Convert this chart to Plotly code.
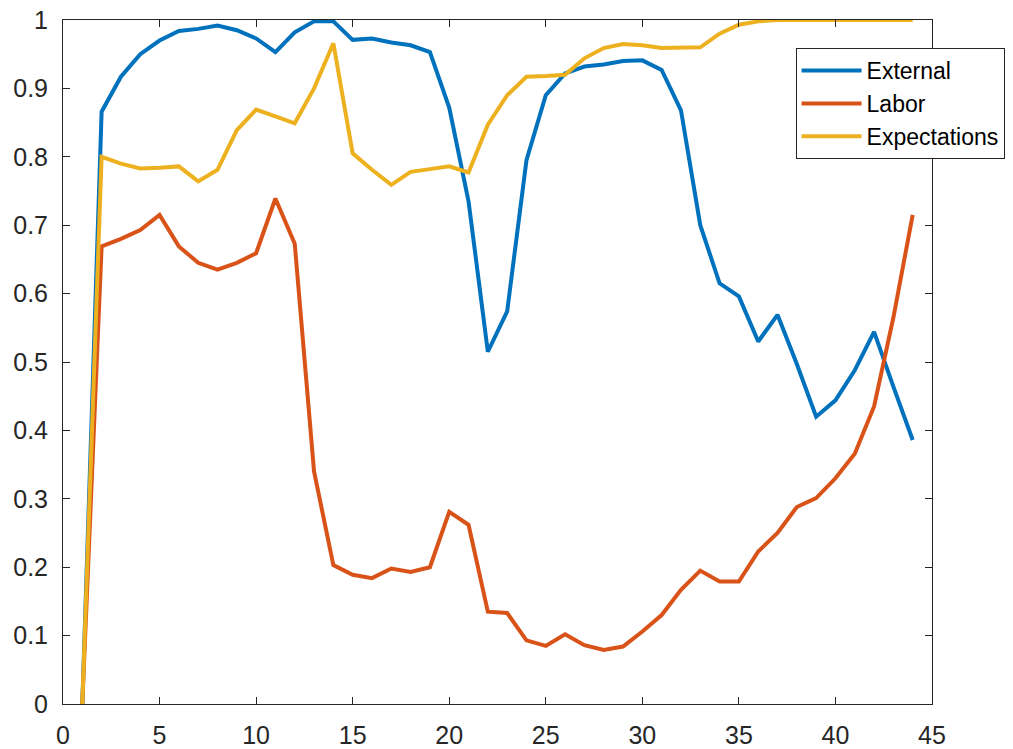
import plotly.graph_objects as go

x_vals = list(range(1, 45))

external = [0, 0.866, 0.917, 0.950, 0.970, 0.984, 0.987, 0.992, 0.985, 0.973,
            0.953, 0.982, 0.998, 0.998, 0.971, 0.973, 0.967, 0.963, 0.953, 0.872,
            0.735, 0.515, 0.574, 0.795, 0.890, 0.922, 0.932, 0.935, 0.940, 0.941,
            0.927, 0.868, 0.700, 0.615, 0.596, 0.530, 0.569, 0.497, 0.420, 0.444,
            0.488, 0.544, 0.464, 0.386]

labor = [0, 0.669, 0.680, 0.693, 0.715, 0.669, 0.645, 0.635, 0.645, 0.659,
         0.739, 0.673, 0.340, 0.203, 0.189, 0.184, 0.198, 0.193, 0.200, 0.281,
         0.262, 0.135, 0.133, 0.093, 0.085, 0.102, 0.086, 0.079, 0.084, 0.106,
         0.130, 0.167, 0.195, 0.179, 0.179, 0.223, 0.250, 0.288, 0.301, 0.330,
         0.366, 0.435, 0.565, 0.715]

expectations = [0, 0.800, 0.790, 0.783, 0.784, 0.786, 0.764, 0.781, 0.839, 0.869,
                0.859, 0.849, 0.900, 0.966, 0.805, 0.781, 0.759, 0.778, 0.782, 0.786,
                0.777, 0.847, 0.890, 0.917, 0.918, 0.920, 0.944, 0.959, 0.965, 0.963,
                0.959, 0.959, 0.960, 0.980, 0.993, 0.998, 1.0, 1.0, 1.0, 1.0,
                1.0, 1.0, 1.0, 1.0]

series_names = ["External", "Labor", "Expectations"]
series_colors = ["#0072BD", "#D95319", "#EDB120"]

x_ticks = [0, 5, 10, 15, 20, 25, 30, 35, 40, 45]
y_ticks = [0, 0.1, 0.2, 0.3, 0.4, 0.5, 0.6, 0.7, 0.8, 0.9, 1]
y_ticktext = ["0", "0.1", "0.2", "0.3", "0.4", "0.5", "0.6", "0.7", "0.8", "0.9", "1"]

fig = go.Figure()
for name, ys, col in zip(series_names, [external, labor, expectations], series_colors):
    fig.add_trace(go.Scatter(x=x_vals, y=ys, mode="lines", name=name,
                             line=dict(color=col, width=4)))

axis_color = "#262626"
font_family = "Liberation Sans, Arial, sans-serif"

# page body has an 8px margin, so the figure is offset by 8px
fig.update_layout(
    width=1005, height=741,
    margin=dict(l=55, r=81, t=12, b=45, autoexpand=False),
    paper_bgcolor="white", plot_bgcolor="white",
    font=dict(family=font_family, size=25, color=axis_color),
    showlegend=True,
    legend=dict(x=0.843, y=0.959, xanchor="left", yanchor="top",
                bgcolor="white", bordercolor=axis_color, borderwidth=1,
                font=dict(size=23, color="#000000"),
                tracegroupgap=0, itemwidth=60),
)
fig.update_xaxes(range=[0, 45], tickvals=x_ticks, ticks="inside", ticklen=7,
                 tickcolor=axis_color, showline=True, linecolor=axis_color,
                 linewidth=1, mirror="ticks", showgrid=False, zeroline=False,
                 automargin=False, ticklabelstandoff=9, ticklabeloverflow="allow",
                 tickfont=dict(size=25, color=axis_color))
fig.update_yaxes(range=[0, 1], tickvals=y_ticks, ticktext=y_ticktext,
                 ticks="inside", ticklen=7, tickcolor=axis_color, showline=True,
                 linecolor=axis_color, linewidth=1, mirror="ticks",
                 showgrid=False, zeroline=False,
                 automargin=False, ticklabelstandoff=9, ticklabeloverflow="allow",
                 tickfont=dict(size=25, color=axis_color))

fig.write_html("out.html")
